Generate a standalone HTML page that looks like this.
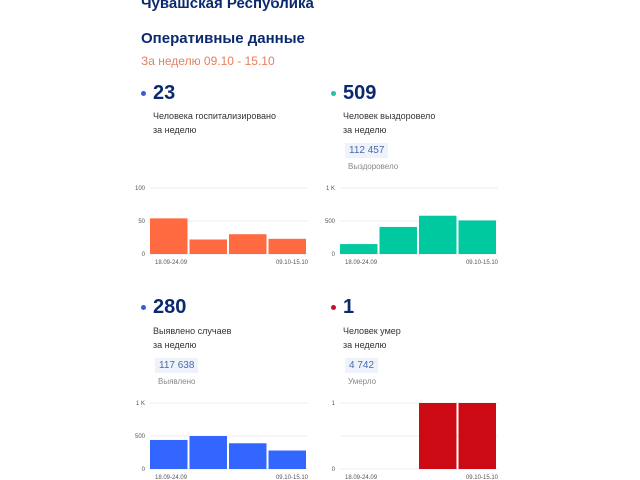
<!DOCTYPE html>
<html><head><meta charset="utf-8"><style>
body{margin:0;width:640px;height:480px;background:#fff;font-family:"Liberation Sans",sans-serif;position:relative;overflow:hidden}
.a{position:absolute;white-space:nowrap}
.t{color:#0b2a6e;font-weight:bold;font-size:15px}
.num{color:#0b2a6e;font-weight:bold;font-size:20px}
.dot{width:5px;height:5px;border-radius:50%}
.lab{font-size:9px;color:#333;line-height:14px}
.box{background:#eef3fb;color:#4a6aa8;font-size:10px;padding:2px 4px}
.sm{font-size:8px;color:#888}
</style></head><body>
<div class="a t" style="left:141px;top:-5px">Чувашская Республика</div>
<div class="a t" style="left:141px;top:30px">Оперативные данные</div>
<div class="a" style="left:141px;top:54px;font-size:12px;color:#e87d5f">За неделю 09.10 - 15.10</div>

<div class="a dot" style="left:141px;top:91px;background:#3a5bd9"></div>
<div class="a num" style="left:153px;top:82px">23</div>
<div class="a lab" style="left:153px;top:109px">Человека госпитализировано<br>за неделю</div>

<div class="a dot" style="left:331px;top:91px;background:#1fc4a0"></div>
<div class="a num" style="left:343px;top:82px">509</div>
<div class="a lab" style="left:343px;top:109px">Человек выздоровело<br>за неделю</div>
<div class="a box" style="left:345px;top:143px">112 457</div>
<div class="a sm" style="left:348px;top:162px">Выздоровело</div>

<div class="a dot" style="left:141px;top:305px;background:#3a5bd9"></div>
<div class="a num" style="left:153px;top:296px">280</div>
<div class="a lab" style="left:153px;top:324px">Выявлено случаев<br>за неделю</div>
<div class="a box" style="left:155px;top:358px">117 638</div>
<div class="a sm" style="left:158px;top:377px">Выявлено</div>

<div class="a dot" style="left:331px;top:305px;background:#c8102e"></div>
<div class="a num" style="left:343px;top:296px">1</div>
<div class="a lab" style="left:343px;top:324px">Человек умер<br>за неделю</div>
<div class="a box" style="left:345px;top:358px">4 742</div>
<div class="a sm" style="left:348px;top:377px">Умерло</div>

<svg id="s" width="640" height="480" style="position:absolute;left:0;top:0"></svg>
<script>
const hospValues=[54,22,30,23];
const recovValues=[150,410,580,509];
const casesValues=[440,500,390,280];
const deathValues=[0,0,1,1];
const tickLabelsA=["0","50","100"];
const tickLabelsK=["0","500","1 K"];
const tickLabels1=["0","","1"];
const xLabels=["18.09-24.09","09.10-15.10"];
const svg=document.getElementById('s');
const NS='http://www.w3.org/2000/svg';
function chart(name,x0,yb,vals,max,ticks,color){
  const w=158,h=66;
  const ys=v=>yb-v/max*h;
  for(let i=0;i<3;i++){
    const y=yb-i*h/2;
    const l=document.createElementNS(NS,'line');
    
    
    l.setAttribute('x1',x0);l.setAttribute('x2',x0+w);l.setAttribute('y1',y);l.setAttribute('y2',y);
    l.setAttribute('stroke','#eee');svg.appendChild(l);
    if(ticks[i]){const t=document.createElementNS(NS,'text');
    
    
    t.setAttribute('x',x0-5);t.setAttribute('y',y+2);t.setAttribute('text-anchor','end');
    t.setAttribute('font-size','6');t.setAttribute('fill','#555');t.textContent=ticks[i];svg.appendChild(t);}
  }
  const bw=w/vals.length;
  vals.forEach((v,i)=>{
    const r=document.createElementNS(NS,'rect');
    
    
    r.setAttribute('x',x0+i*bw);r.setAttribute('width',bw-2);
    r.setAttribute('y',ys(v));r.setAttribute('height',yb-ys(v));
    r.setAttribute('fill',color);svg.appendChild(r);
  });
  [[x0+5,'start',0],[x0+w,'end',1]].forEach(([x,a,i])=>{
    const t=document.createElementNS(NS,'text');
    
    
    t.setAttribute('x',x);t.setAttribute('y',yb+10);t.setAttribute('text-anchor',a);
    t.setAttribute('font-size','6');t.setAttribute('fill','#555');t.textContent=xLabels[i];svg.appendChild(t);
  });
}
chart('hosp-chart',150,254,hospValues,100,tickLabelsA,'#ff6a40');
chart('recov-chart',340,254,recovValues,1000,tickLabelsK,'#00c9a0');
chart('cases-chart',150,469,casesValues,1000,tickLabelsK,'#3366ff');
chart('death-chart',340,469,deathValues,1,tickLabels1,'#cc0a14');
</script>
</body></html>
